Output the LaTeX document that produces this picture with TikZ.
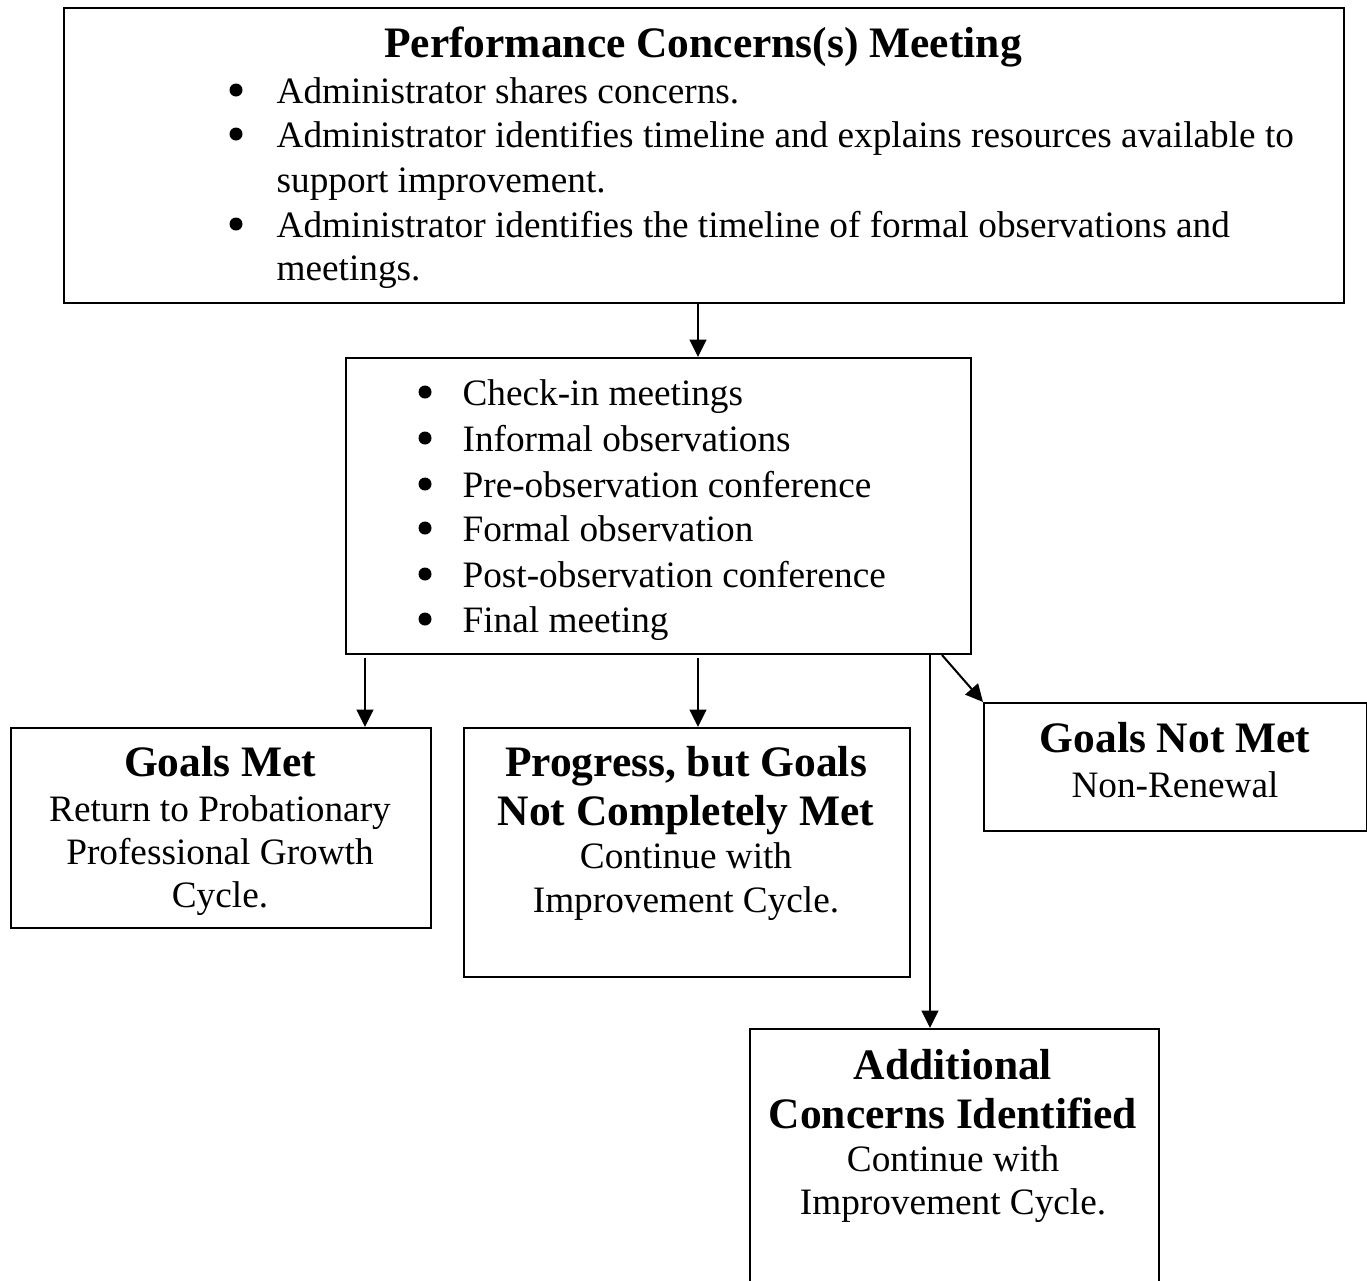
\documentclass[tikz,border=0pt]{standalone}
\usepackage{fontspec}
\setmainfont{Liberation Serif}
\usetikzlibrary{arrows.meta,calc}
\newlength\px
\setlength\px{0.322pt}
\tikzset{
  box/.style={draw, line width=0.65pt, inner sep=0pt, anchor=north west},
  body/.style={inner sep=0pt, anchor=base, font=\fontsize{12}{14}\selectfont},
  bodyl/.style={body, anchor=base west},
  head/.style={inner sep=0pt, anchor=base, font=\fontsize{14}{16}\selectfont\bfseries},
  dot/.style={circle, fill, inner sep=0pt, minimum size=13\px},
  arr/.style={line width=0.65pt, -{Triangle[length=5.6pt,width=5.4pt]}},
}
\begin{document}
\begin{tikzpicture}[x=0.322pt, y=-0.322pt]
\useasboundingbox (0,0) rectangle (1367,1281);

% boxes
\node[box, minimum width=1280\px, minimum height=295\px] (top) at (63,7) {};
\node[box, minimum width=625\px, minimum height=296\px] (mid) at (345,357) {};
\node[box, minimum width=420\px, minimum height=200\px] (gm) at (10,727) {};
\node[box, minimum width=446\px, minimum height=249\px] (pg) at (463,727) {};
\node[box, minimum width=383\px, minimum height=128\px] (gnm) at (983,702) {};
\node[box, minimum width=409\px, minimum height=262\px] (add) at (749,1028) {};

% meeting box
\node[head] (topT) at (703,57) {Performance Concerns(s) Meeting};
\node[dot] (topB1) at (236,90) {};
\node[bodyl] (topL1) at (276,103) {Administrator shares concerns.};
\node[dot] (topB2) at (236,134) {};
\node[bodyl] (topL2) at (276,147) {Administrator identifies timeline and explains resources available to};
\node[bodyl] (topL2b) at (276,192) {support improvement.};
\node[dot] (topB3) at (236,224) {};
\node[bodyl] (topL3) at (276,237) {Administrator identifies the timeline of formal observations and};
\node[bodyl] (topL3b) at (276,280) {meetings.};

% steps box
\foreach \y/\t [count=\i] in {405/Check-in meetings, 451/Informal observations,
    497/Pre-observation conference, 541/Formal observation,
    587/Post-observation conference, 632/Final meeting}{
  \node[dot] (midB\i) at (425,\y-13) {};
  \node[bodyl] (midL\i) at (462,\y) {\t};
}

% outcomes
\node[head] (gmT) at (220,776) {Goals Met};
\node[body] (gm1) at (220,821) {Return to Probationary};
\node[body] (gm2) at (220,864) {Professional Growth};
\node[body] (gm3) at (220,907) {Cycle.};

\node[head] (pgT1) at (686,776) {Progress, but Goals};
\node[head] (pgT2) at (686,825) {Not Completely Met};
\node[body] (pg1) at (686,868) {Continue with};
\node[body] (pg2) at (686,912) {Improvement Cycle.};

\node[head] (gnmT) at (1175,752) {Goals Not Met};
\node[body] (gnm1) at (1175,797) {Non-Renewal};

\node[head] (addT1) at (953,1079) {Additional};
\node[head] (addT2) at (953,1128) {Concerns Identified};
\node[body] (add1) at (953,1171) {Continue with};
\node[body] (add2) at (953,1214) {Improvement Cycle.};

% connectors
\coordinate (tA) at ($(top.south west)+(635,0)$);
\draw[arr] (tA) -- (tA |- mid.north);
\coordinate (mA) at ($(mid.south west)+(20,3)$);
\draw[arr] (mA) -- (mA |- gm.north);
\coordinate (mB) at ($(mid.south west)+(353,3)$);
\draw[arr] (mB) -- (mB |- pg.north);
\coordinate (mC) at ($(mid.south west)+(585,0)$);
\draw[arr] (mC) -- (mC |- add.north);
\coordinate (mD) at ($(mid.south west)+(597,0)$);
\draw[arr] (mD) -- (gnm.north west);
\end{tikzpicture}
\end{document}
